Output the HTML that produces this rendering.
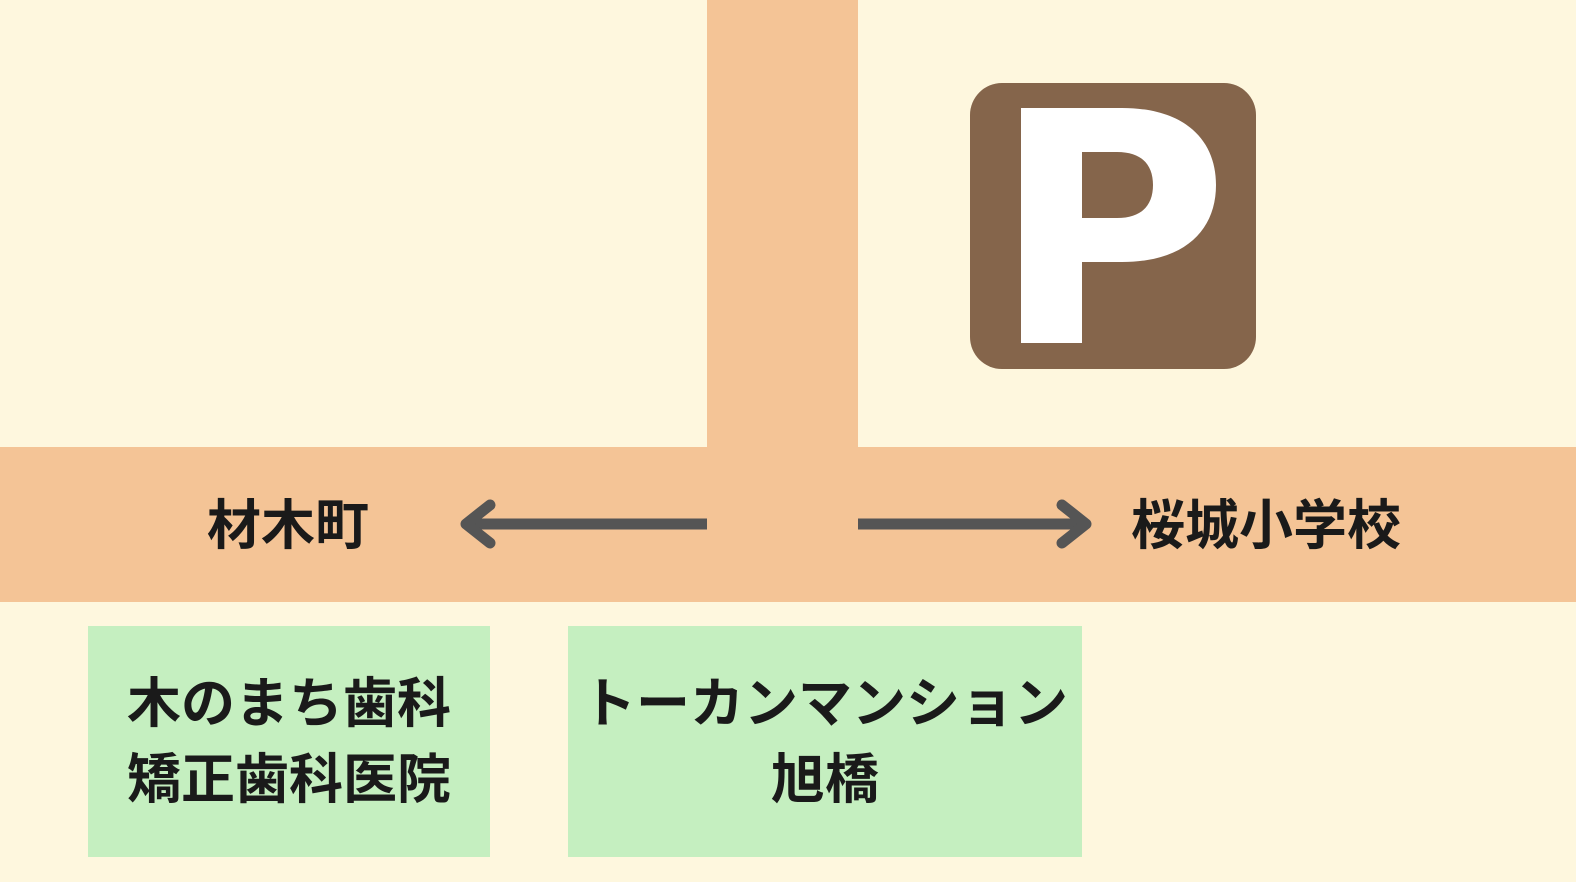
<!DOCTYPE html>
<html><head><meta charset="utf-8"><style>
html,body{margin:0;padding:0}
body{width:1576px;height:882px;position:relative;background:#fef7de;overflow:hidden;font-family:"Liberation Sans","Noto Sans CJK JP",sans-serif;font-weight:bold;color:#1a1a1a}
.a{position:absolute}
.t{position:absolute;font-size:54px;line-height:1;white-space:nowrap}
.box{position:absolute;background:#c5efc0;display:flex;flex-direction:column;align-items:center;justify-content:center;font-size:54px;line-height:76px;text-align:center;white-space:nowrap}
</style></head><body>
<div class="a" style="left:707px;top:0;width:151px;height:448px;background:#f4c496"></div>
<div class="a" style="left:0;top:447px;width:1576px;height:155px;background:#f4c496"></div>
<div class="a" style="left:970px;top:83px;width:286px;height:286px;background:#85654b;border-radius:32px"></div>
<svg class="a" style="left:0;top:0" width="1576" height="882">
<path d="M1021 108 H1122 C1185 108 1216 140 1216 185 C1216 230 1185 262 1122 262 H1082 V343 H1021 Z M1082 152 V218 H1117 C1142 218 1153 205 1153 185 C1153 165 1142 152 1117 152 Z" fill="#fff" fill-rule="evenodd"/>
<g stroke="#555" stroke-width="11" fill="none" stroke-linecap="round" stroke-linejoin="round">
<line x1="707" y1="524" x2="468" y2="524" stroke-linecap="butt"/>
<polyline points="490,505 466,524 490,543"/>
<line x1="858" y1="524" x2="1084" y2="524" stroke-linecap="butt"/>
<polyline points="1062,505 1086,524 1062,543"/>
</g>
</svg>
<div class="t" style="left:207px;top:499px">材木町</div>
<div class="t" style="left:1131px;top:499px">桜城小学校</div>
<div class="box" style="left:88px;top:626px;width:402px;height:231px"><div>木のまち歯科</div><div>矯正歯科医院</div></div>
<div class="box" style="left:568px;top:626px;width:514px;height:231px"><div>トーカンマンション</div><div>旭橋</div></div>
</body></html>
